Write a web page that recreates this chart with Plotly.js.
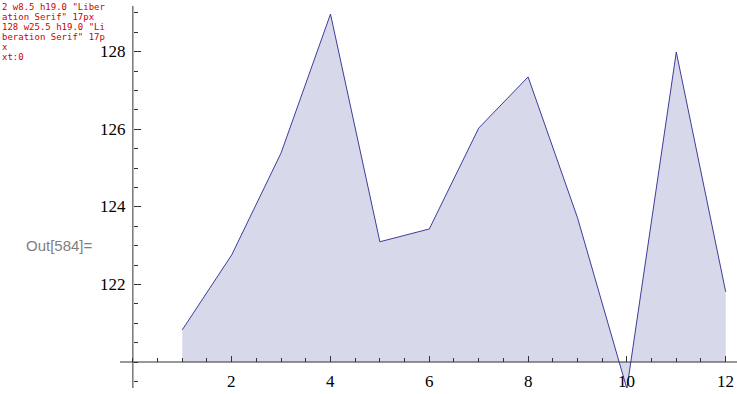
<!DOCTYPE html>
<html>
<head>
<meta charset="utf-8">
<script src="https://cdn.plot.ly/plotly-3.0.1.min.js"></script>
<style>
html,body{margin:0;padding:0;background:#fff;}
#chart{width:737px;height:394px;}
#dbg{position:absolute;left:2px;top:2px;width:105px;font:9px monospace;white-space:pre-wrap;word-break:break-all;color:#c00;}
</style>
</head>
<body>
<div id="chart"></div>
<div id="dbg"></div>
<script>
// Data
const xValues = [1, 2, 3, 4, 5, 6, 7, 8, 9, 10, 11, 12];
const yValues = [120.83, 122.76, 125.39, 128.97, 123.10, 123.43, 126.03, 127.35, 123.72, 119.31, 127.99, 121.81];
const fillBase = 120;
const xTickVals = [2, 4, 6, 8, 10, 12];
const yTickVals = [122, 124, 126, 128];
const outLabel = "Out[584]=";

const xRange = [-0.261, 12.229];
const yRange = [119.33, 129.178];

const lineColor = "#3d3d99";
const fillColor = "#d8d8eb";
const axisColor = "#333333";

const baseTrace = {
  x: xValues,
  y: xValues.map(() => fillBase),
  mode: "lines",
  line: {width: 0, color: "rgba(0,0,0,0)"},
  hoverinfo: "skip",
  showlegend: false
};
const dataTrace = {
  x: xValues,
  y: yValues,
  mode: "lines",
  fill: "tonexty",
  fillcolor: fillColor,
  line: {color: lineColor, width: 1},
  showlegend: false
};

const labelFamily = "Liberation Serif";
function labelFont() { return {family: labelFamily, size: 17, color: "black"}; }

const tickLabelAnnotations = [
  ...xTickVals.map(v => ({
    text: String(v), xref: "x", yref: "y", x: v, y: fillBase,
    xanchor: "center", yanchor: "top", yshift: -8, showarrow: false, font: labelFont()
  })),
  ...yTickVals.map(v => ({
    text: String(v), xref: "x", yref: "y", x: 0, y: v,
    xanchor: "right", yanchor: "middle", xshift: -5, showarrow: false, font: labelFont()
  }))
];

const layout = {
  width: 737,
  height: 394,
  margin: {l: 120, r: 0, t: 6, b: 6, pad: 0},
  paper_bgcolor: "white",
  plot_bgcolor: "white",
  showlegend: false,
  xaxis: {
    range: xRange,
    anchor: "free",
    position: (fillBase - yRange[0]) / (yRange[1] - yRange[0]),
    showgrid: false,
    zeroline: false,
    showline: false,
    showticklabels: false,
    tickmode: "array",
    tickvals: xTickVals,
    ticks: "inside",
    ticklen: 6,
    tickwidth: 1,
    tickcolor: axisColor,
    minor: {dtick: 0.5, tick0: 0, ticks: "inside", ticklen: 4, tickwidth: 1, tickcolor: axisColor, showgrid: false}
  },
  yaxis: {
    range: yRange,
    anchor: "free",
    position: (0 - xRange[0]) / (xRange[1] - xRange[0]),
    showgrid: false,
    zeroline: false,
    showline: false,
    showticklabels: false,
    tickmode: "array",
    tickvals: yTickVals,
    ticks: "inside",
    ticklen: 7,
    tickwidth: 1,
    tickcolor: axisColor,
    minor: {dtick: 0.5, tick0: 0, ticks: "inside", ticklen: 4, tickwidth: 1, tickcolor: axisColor, showgrid: false}
  },
  shapes: [
    {type: "line", xref: "paper", x0: 0, x1: 1, yref: "y", y0: fillBase, y1: fillBase,
     line: {color: axisColor, width: 1}},
    {type: "line", xref: "x", x0: 0, x1: 0, yref: "paper", y0: 0, y1: 1,
     line: {color: axisColor, width: 1}}
  ],
  annotations: [
    ...tickLabelAnnotations,
    {text: outLabel, xref: "paper", yref: "y", x: -0.04, y: 123, xanchor: "right", yanchor: "middle",
     showarrow: false, font: {family: "Liberation Sans", size: 15, color: "#808080"}}
  ]
};

Plotly.newPlot("chart", [baseTrace, dataTrace], layout, {displayModeBar: false, staticPlot: true}).then(gd => {
  const texts = gd.querySelectorAll('.annotation-text');
  const lines = [];
  texts.forEach((t, i) => {
    if (i === 9 || i === 0) {
      const b = t.getBBox();
      lines.push(t.textContent + " w" + b.width.toFixed(1) + " h" + b.height.toFixed(1) + " " + getComputedStyle(t).fontFamily + " " + getComputedStyle(t).fontSize);
    }
  });
  lines.push("xt:" + gd.querySelectorAll('.xtick text').length);
  document.getElementById('dbg').textContent = lines.join("\n");
});
</script>
</body>
</html>
